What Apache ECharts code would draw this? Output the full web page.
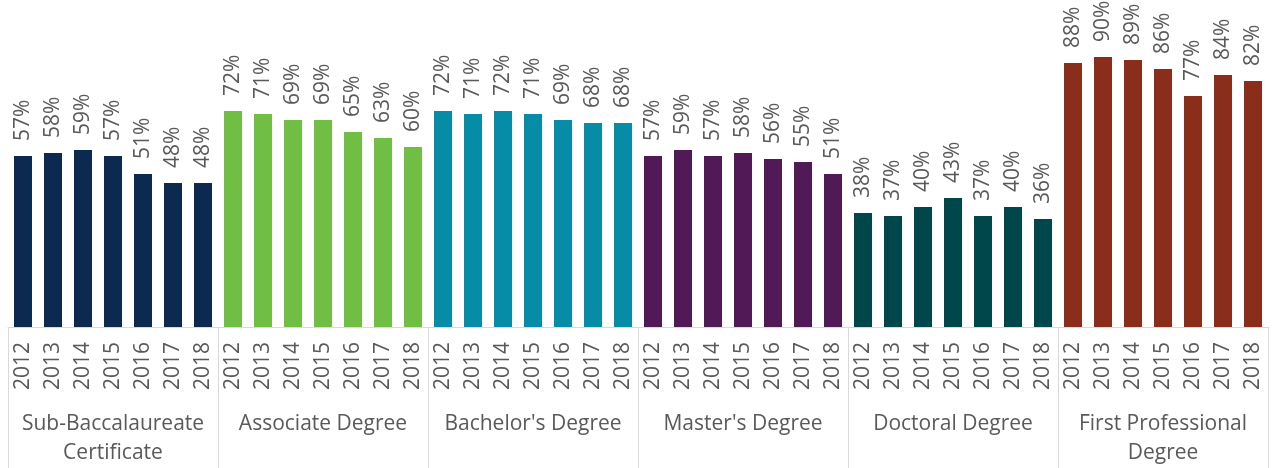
<!DOCTYPE html>
<html>
<head>
<meta charset="utf-8">
<script src="https://cdn.jsdelivr.net/npm/echarts@6/dist/echarts.min.js"></script>
<style>
html, body { margin: 0; padding: 0; background: #fff; }
#chart { width: 1276px; height: 468px; }
</style>
</head>
<body>
<div id="chart"></div>
<script>
// data
var years = ['2012', '2013', '2014', '2015', '2016', '2017', '2018'];
var groups = ['Sub-Baccalaureate\nCertificate', 'Associate Degree', "Bachelor's Degree",
	"Master's Degree", 'Doctoral Degree', 'First Professional\nDegree'];
var subBacc = [57, 58, 59, 57, 51, 48, 48];
var associate = [72, 71, 69, 69, 65, 63, 60];
var bachelor = [72, 71, 72, 71, 69, 68, 68];
var master = [57, 59, 57, 58, 56, 55, 51];
var doctoral = [38, 37, 40, 43, 37, 40, 36];
var firstProf = [88, 90, 89, 86, 77, 84, 82];
var colors = ['#0c2a50', '#70bf44', '#078ca8', '#521957', '#00474c', '#8a2e1b'];

var allValues = [subBacc, associate, bachelor, master, doctoral, firstProf];
var cats = [], data = [];
allValues.forEach(function (vals, g) {
	vals.forEach(function (v, i) {
		cats.push(years[i]);
		data.push({ value: v, itemStyle: { color: colors[g] } });
	});
});

var myChart = echarts.init(document.getElementById('chart'));
myChart.setOption({
	animation: false,
	textStyle: { fontFamily: 'Open Sans' },
	grid: { left: 8, right: 8, top: 27, bottom: 141 },
	xAxis: [{
		type: 'category',
		data: cats,
		axisLine: { lineStyle: { color: '#d9d9d9' } },
		axisTick: { show: false },
		axisLabel: { interval: 0, rotate: 90, margin: 15, fontSize: 21, color: '#595959' }
	}, {
		type: 'category',
		position: 'bottom',
		data: groups,
		axisLine: { show: false },
		axisTick: { show: true, length: 141, lineStyle: { color: '#d9d9d9' } },
		axisLabel: { interval: 0, margin: 83, fontSize: 21, lineHeight: 29, color: '#595959' }
	}],
	yAxis: { type: 'value', min: 0, max: 100, show: false, splitLine: { show: false } },
	series: [{
		type: 'bar',
		xAxisIndex: 0,
		barWidth: 18,
		data: data,
		label: {
			show: true,
			position: 'top',
			rotate: 90,
			align: 'left',
			verticalAlign: 'middle',
			distance: 15,
			fontSize: 21,
			color: '#595959',
			formatter: '{c}%'
		}
	}]
});
</script>
</body>
</html>
